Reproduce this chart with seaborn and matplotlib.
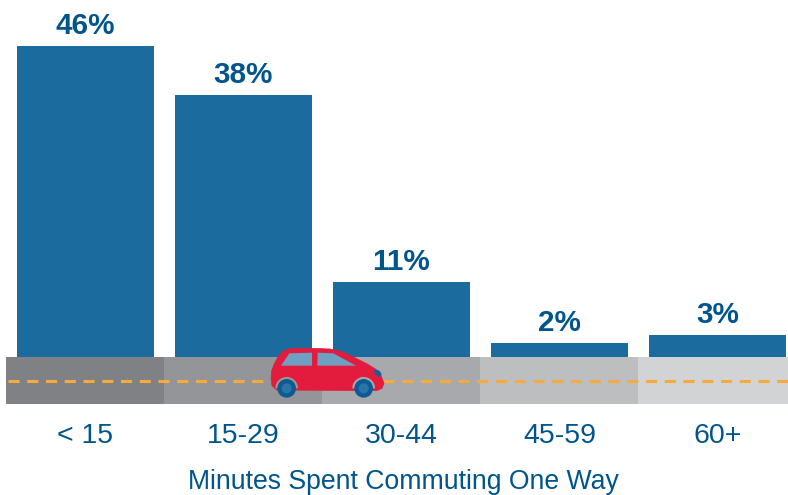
import matplotlib
matplotlib.use("Agg")
import matplotlib.pyplot as plt
import pandas as pd
import seaborn as sns
from matplotlib.patches import Circle, Ellipse, Polygon, Wedge
from matplotlib.transforms import Affine2D

# data
categories = ["< 15", "15-29", "30-44", "45-59", "60+"]
bar_heights = [46.0, 38.8, 11.1, 2.1, 3.3]
bar_labels = ["46%", "38%", "11%", "2%", "3%"]
road_colors = ["#808184", "#939598", "#a7a9ac", "#bcbec0", "#d1d3d4"]

BLUE = "#1b6b9e"
TEXT = "#00558c"
W, H = 788, 495
PX_PER_UNIT = 6.76
STEP = 158
FIRST_CENTER = 85.5

sns.set_style("white")
plt.rcParams["font.family"] = ["Liberation Sans", "DejaVu Sans"]
plt.rcParams["lines.scale_dashes"] = False

fig = plt.figure(figsize=(W / 100, H / 100), dpi=100)
# axes runs from the road's bottom edge to the top of the image
ax = fig.add_axes([6 / W, (H - 404) / H, (W - 6) / W, 404 / H])

df = pd.DataFrame({"range": categories, "share": bar_heights})
sns.barplot(data=df, x="range", y="share", color=BLUE, saturation=1,
            width=137 / STEP, linewidth=0, ax=ax, zorder=2)

ax.set_xlim((6 - FIRST_CENTER) / STEP, (W - FIRST_CENTER) / STEP)
ax.set_ylim(-47 / PX_PER_UNIT, 357 / PX_PER_UNIT)

ax.bar_label(ax.containers[0], labels=bar_labels, padding=4, color=TEXT,
             fontsize=21.3, fontweight="bold")

# road under the bars, one shade per category
shift = 0.7 / STEP
for i, c in enumerate(road_colors):
    ax.fill_between([i - 0.5 - shift, i + 0.5 - shift + (0.1 if i == 4 else 0)],
                    -47 / PX_PER_UNIT, 0, color=c, lw=0, zorder=1)
ax.plot([(8 - FIRST_CENTER) / STEP, (W - FIRST_CENTER) / STEP], [-24 / PX_PER_UNIT] * 2,
        color="#f7aa3e", lw=2.2, linestyle=(0, (8.0, 5.5)), zorder=3)

ax.tick_params(axis="x", length=0, pad=14, labelsize=20.5, labelcolor=TEXT)
ax.tick_params(axis="y", left=False, labelleft=False)
ax.set_xlabel("Minutes Spent Commuting One Way", fontsize=19.15, color=TEXT)
ax.xaxis.set_label_coords((403.5 - 6) / (W - 6), -0.16)
ax.set_ylabel("")
sns.despine(ax=ax, left=True, bottom=True)

# car, traced in a local sketch grid (3 units per pixel)
car_tf = Affine2D().scale(1 / 3, -1 / 3).translate(250, H - 335)
body = [(63, 130), (65, 108), (72, 88), (84, 66), (98, 50), (118, 41), (190, 40), (240, 42), (275, 50),
        (310, 66), (350, 86), (375, 101), (393, 122), (402, 145), (396, 160), (380, 167),
        (80, 165), (66, 152)]
ax.add_patch(Polygon(body, closed=True, fc="#e31b3c", ec="#e31b3c", lw=0.5, joinstyle="round",
                     transform=car_tf, zorder=4))
for pts in ([(93, 92), (118, 55), (186, 53), (186, 92)], [(202, 92), (203, 53), (250, 55), (318, 92)]):
    ax.add_patch(Polygon(pts, closed=True, fc="#6f9fc1", ec="none", transform=car_tf, zorder=5))
ax.add_patch(Ellipse((383, 114), 26, 16, angle=40, fc="#1b5f96", ec="none", transform=car_tf, zorder=5))
for cx, arch in zip((110, 341), ("#9b9a94", "#a7a9ac")):
    ax.add_patch(Wedge((cx, 160), 34, 180, 360, fc=arch, ec="none", transform=car_tf, zorder=5))
    ax.add_patch(Circle((cx, 160), 28, fc="#0d5a94", ec="none", transform=car_tf, zorder=6))
    ax.add_patch(Circle((cx, 160), 15, fc="#2a74a8", ec="none", transform=car_tf, zorder=7))

fig.savefig("out.png", dpi=100)
